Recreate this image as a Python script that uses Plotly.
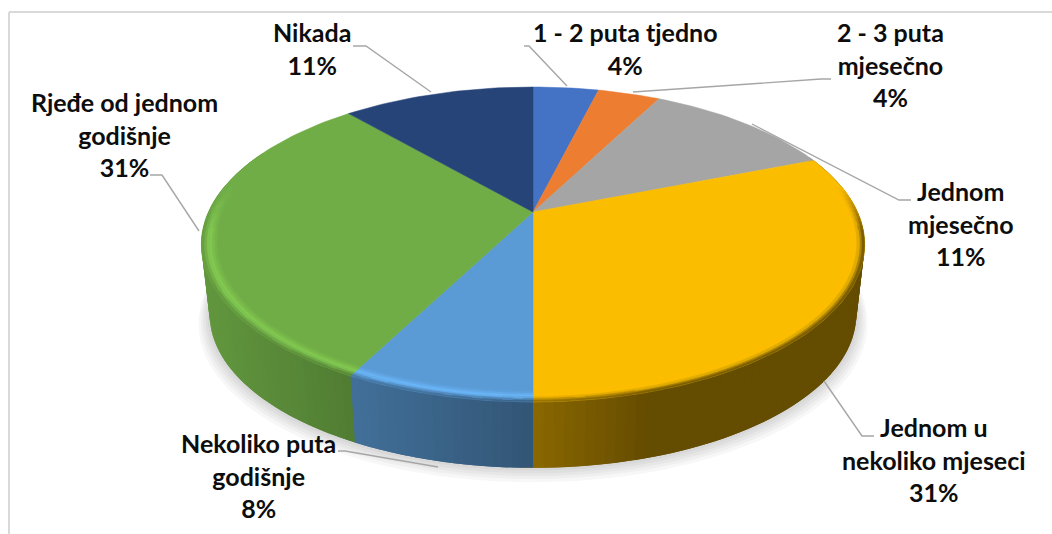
import math
import plotly.graph_objects as go

# ---- data ----
categories = ["1 - 2 puta tjedno", "2 - 3 puta<br>mjesečno", "Jednom<br>mjesečno",
              "Jednom u<br>nekoliko mjeseci", "Nekoliko puta<br>godišnje",
              "Rjeđe od jednom<br>godišnje", "Nikada"]
values = [3.9, 3.7, 11.4, 31.0, 7.6, 31.0, 11.4]
colors = ["#4472c4", "#ed7d31", "#a5a5a5", "#fbbd00", "#5b9bd5", "#70ad47", "#264478"]
highlight = [1.0, 1.0, 1.0, 1.0, 1.18, 1.18, 1.0]

# ---- layout constants ----
W, H = 1052, 534
CX, CY = 533.0, 212.0
K, A, B = 0.206, 150.75, 324.5
S, CYB = 0.975, 282.75
R0 = 0.955
label_pos = [(625, 48), (890, 64), (961, 223.5), (934, 459.5), (258, 475.5), (124, 134), (312, 48)]
leaders = [
    ([524, 529, 567], [46, 46, 86]),
    ([831, 821, 633], [79, 79, 92]),
    ([911, 899, 752], [200, 200, 124]),
    ([874, 862, 824], [436, 436, 381]),
    ([338, 345, 438], [451, 451, 467]),
    ([150, 162, 199], [175, 175, 231]),
    ([353, 366, 431], [46, 46, 92]),
]
STEP = 1.5


def rgb(h):
    return tuple(int(h[i:i + 2], 16) for i in (1, 3, 5))


def css(c):
    return "rgb(%d,%d,%d)" % tuple(max(0, min(255, round(x))) for x in c)


def mul(c, f):
    return tuple(x * f for x in c)


def mix(a, b, t):
    return tuple(p + (q - p) * t for p, q in zip(a, b))


def top(theta, r=1.0):
    u, v = r * math.sin(theta), r * math.cos(theta)
    w = 1 + K * v
    return CX + B * u / w, CY - A * v / w


def bottom(theta, grow=1.0, dy=0.0):
    u, v = math.sin(theta), math.cos(theta)
    w = 1 + K * v
    return CX + S * grow * B * u / w, CYB + dy - S * grow * A * v / w


def side_factor(x):
    n = (x - CX) / 331.5
    pts = [(-1.0, 0.87), (-0.55, 0.72), (0.0, 0.55), (0.35, 0.40), (1.0, 0.40)]
    for (a, fa), (b, fb) in zip(pts, pts[1:]):
        if n <= b:
            return fa + (fb - fa) * (max(n, a) - a) / (b - a)
    return 0.40


def angles(a0, a1):
    n = max(2, int(math.ceil((a1 - a0) / math.radians(STEP))))
    return [a0 + (a1 - a0) * i / n for i in range(n + 1)]


def poly(fig, xs, ys, color, lw=0.7, line=True):
    fig.add_trace(go.Scatter(
        x=xs, y=ys, mode="lines", fill="toself", fillcolor=color,
        line=dict(color=color if line else "rgba(0,0,0,0)", width=lw if line else 0),
        hoverinfo="skip", showlegend=False))


fig = go.Figure()

# soft shadow under the pie
ring = angles(0, 2 * math.pi)
for grow, dy in [(1.035, 8), (1.028, 6), (1.021, 4.5), (1.014, 3), (1.007, 1.5)]:
    pts = [bottom(t, grow, dy) for t in ring]
    poly(fig, [p[0] for p in pts], [p[1] for p in pts], "rgba(0,0,0,0.03)", line=False)

total = sum(values)
edges = [0.0]
for val in values:
    edges.append(edges[-1] + val / total * 2 * math.pi)

# side wall: each strip runs a little under the next one so no seams show
overlap = math.radians(STEP)
for i, col in enumerate(colors):
    base = rgb(col)
    a = angles(edges[i], edges[i + 1])
    for t0, t1 in zip(a, a[1:]):
        if math.cos((t0 + t1) / 2) > 0.4:
            continue
        t2 = t1 + overlap if i < len(colors) - 1 or t1 < edges[-1] - overlap else t1
        p = [top(t0), top(t2), bottom(t2), bottom(t0)]
        xm = top((t0 + t1) / 2)[0]
        poly(fig, [q[0] for q in p] + [p[0][0]], [q[1] for q in p] + [p[0][1]],
             css(mul(base, side_factor(xm))), line=False)

# top face
for i, col in enumerate(colors):
    a = angles(edges[i], edges[i + 1])
    pts = [top(t) for t in a]
    poly(fig, [CX] + [p[0] for p in pts] + [CX], [CY] + [p[1] for p in pts] + [CY], col, lw=0.5)

# rim band, fading out towards the back of the pie
BANDS = 6
for i, col in enumerate(colors):
    base = rgb(col)
    a = angles(edges[i], edges[i + 1])
    groups = {}
    for t0, t1 in zip(a, a[1:]):
        tm = (t0 + t1) / 2
        strength = max(0.0, min(1.0, (0.18 - math.cos(tm)) / 0.3))
        if strength <= 0:
            continue
        xm = top(tm)[0]
        side = mul(base, side_factor(xm))
        for b in range(BANDS):
            f = (b + 0.5) / BANDS
            if f < 0.5:
                c = mix(base, mul(base, highlight[i]), f / 0.5)
            else:
                c = mix(mul(base, highlight[i]), side, (f - 0.5) / 0.5)
            c = mix(base, c, strength)
            key = css(tuple(round(x / 4) * 4 for x in c))
            r0 = R0 + (1 - R0) * b / BANDS
            r1 = R0 + (1 - R0) * (b + 1) / BANDS
            q = [top(t0, r0), top(t1, r0), top(t1, r1), top(t0, r1), top(t0, r0)]
            gx, gy = groups.setdefault(key, ([], []))
            gx += [p[0] for p in q] + [None]
            gy += [p[1] for p in q] + [None]
    for key, (gx, gy) in groups.items():
        poly(fig, gx, gy, key, lw=0.5)

# leader lines
for lx, ly in leaders:
    fig.add_trace(go.Scatter(x=lx, y=ly, mode="lines", line=dict(color="#a6a6a6", width=1.4),
                             hoverinfo="skip", showlegend=False))

# labels
annotations = [
    dict(x=px, y=py, xref="x", yref="y", text="<b>%s<br>%d%%</b>" % (cat, round(val)),
         showarrow=False, xanchor="center", yanchor="middle", align="center",
         font=dict(family="Lato", size=25, color="#0d0d0d"))
    for cat, val, (px, py) in zip(categories, values, label_pos)
]

frame = [
    dict(type="line", x0=9, x1=W, y0=12, y1=12, line=dict(color="#d9d9d9", width=2), layer="below"),
    dict(type="line", x0=9, x1=9, y0=12, y1=H, line=dict(color="#d9d9d9", width=2), layer="below"),
]

fig.update_layout(
    width=W, height=H, margin=dict(l=0, r=0, t=0, b=0),
    paper_bgcolor="white", plot_bgcolor="white", showlegend=False,
    xaxis=dict(range=[0, W], visible=False, fixedrange=True),
    yaxis=dict(range=[H, 0], visible=False, fixedrange=True),
    annotations=annotations, shapes=frame,
)
fig.write_html("out.html", config={"displayModeBar": False},
               post_script="document.body.style.margin='0';document.body.style.overflow='hidden';")
